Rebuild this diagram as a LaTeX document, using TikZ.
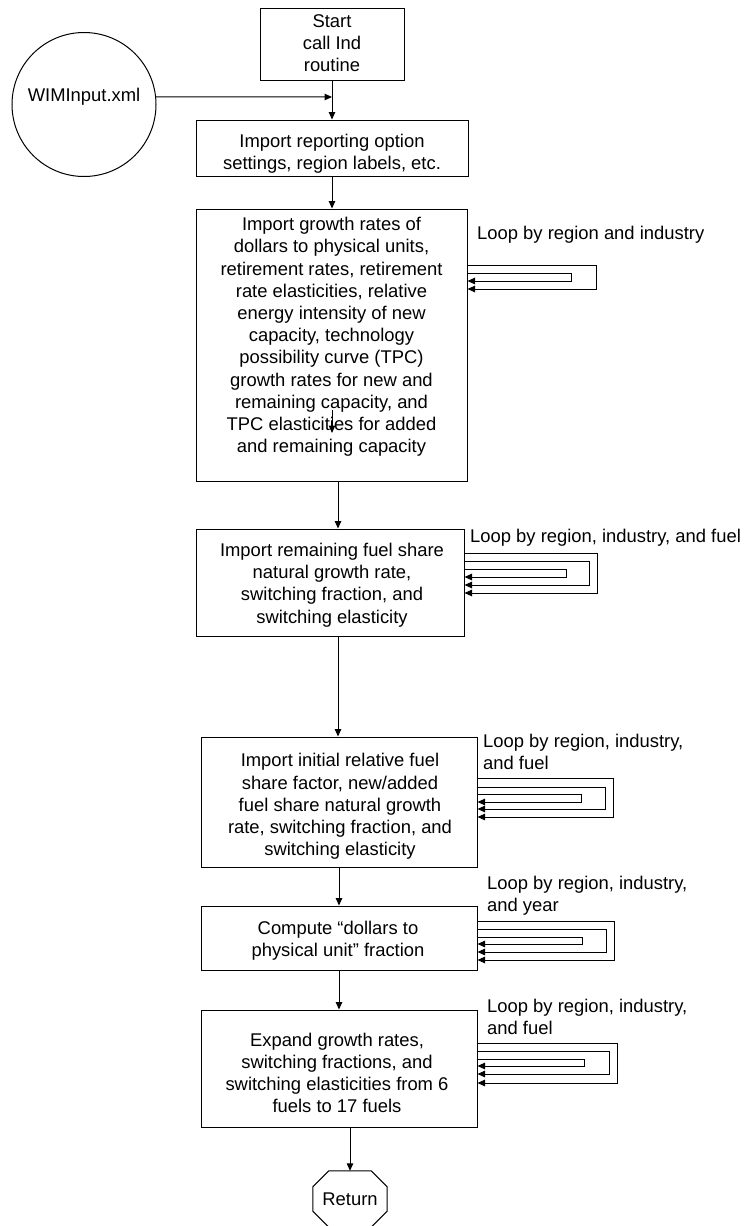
\documentclass[tikz,border=0pt]{standalone}
\usepackage{fontspec}
\setmainfont{Liberation Sans}
\usetikzlibrary{arrows.meta}
\newcommand\fsz{\fontsize{18.4pt}{22.2pt}\selectfont}
\newcommand\looprect[4]{\draw[arr] (#1.east |- 0,#2) -- (#3,#2) -- (#3,#4) -- (#1.east |- 0,#4);}
\begin{document}
\begin{tikzpicture}[x=1pt,y=-1pt,
  every node/.style={font=\fsz, inner sep=0pt},
  box/.style={draw, line width=1pt, rectangle},
  txt/.style={align=center},
  lbl/.style={align=left, anchor=west},
  ln/.style={line width=1pt},
  arr/.style={line width=1pt, -{Triangle[length=7.5pt,width=6.5pt]}}]
\useasboundingbox (0,0) rectangle (750,1226);

% input circle
\node[draw, circle, line width=1pt, minimum size=144pt] (circ) at (84,104.5) {};
\node (ctext) at (84,97) {WIMInput.xml};

% boxes
\node[box, minimum width=144pt, minimum height=72pt] (st) at (332,44) {};
\node[txt] (stt) at (332,43) {Start\\call Ind\\routine};

\node[box, minimum width=272pt, minimum height=56pt] (b2) at (332,148) {};
\node[txt] (t2) at (332,154) {Import reporting option\\settings, region labels, etc.};

\node[box, minimum width=271pt, minimum height=272pt] (b3) at (331.5,345) {};
\node[txt] (t3) at (331.5,337) {Import growth rates of\\dollars to physical units,\\retirement rates, retirement\\rate elasticities, relative\\energy intensity of new\\capacity, technology\\possibility curve (TPC)\\growth rates for new and\\remaining capacity, and\\TPC elasticities for added\\and remaining capacity};

\node[box, minimum width=268pt, minimum height=107pt] (b4) at (330,582.5) {};
\node[txt] (t4) at (332,585) {Import remaining fuel share\\natural growth rate,\\switching fraction, and\\switching elasticity};

\node[box, minimum width=276pt, minimum height=130pt] (b5) at (339,802) {};
\node[txt] (t5) at (340,806.5) {Import initial relative fuel\\share factor, new/added\\fuel share natural growth\\rate, switching fraction, and\\switching elasticity};

\node[box, minimum width=276pt, minimum height=64pt] (b6) at (339,938) {};
\node[txt] (t6) at (338,941) {Compute “dollars to\\physical unit” fraction};

\node[box, minimum width=276pt, minimum height=117pt] (b7) at (339,1068.5) {};
\node[txt] (t7) at (337,1073) {Expand growth rates,\\switching fractions, and\\switching elasticities from 6\\fuels to 17 fuels};

\node[minimum width=74pt, minimum height=56pt] (ret) at (350,1199) {Return};
\draw[ln] ([xshift=16pt]ret.north west) -- ([xshift=-16pt]ret.north east)
  -- ([yshift=-16pt]ret.north east) -- ([yshift=16pt]ret.south east)
  -- ([xshift=-16pt]ret.south east) -- ([xshift=16pt]ret.south west)
  -- ([yshift=16pt]ret.south west) -- ([yshift=-16pt]ret.north west) -- cycle;

% loop labels
\node[lbl] (l1) at (477,235) {Loop by region and industry};
\node[lbl] (l2) at (470,538) {Loop by region, industry, and fuel};
\node[lbl] (l3) at (483,752) {Loop by region, industry,\\and fuel};
\node[lbl] (l4) at (487,895.5) {Loop by region, industry,\\and year};
\node[lbl] (l5) at (487,1017) {Loop by region, industry,\\and fuel};

% connectors
\coordinate (j) at (332,97);
\draw[arr] (circ.6) -- (j);
\draw[arr] (st.south) -- (b2.north);
\draw[arr] (b2.south) -- (b2.south |- b3.north);
\coordinate (s1) at (332,410);
\coordinate (s2) at (332,433);
\draw[arr] (s1) -- (s2);
\draw[arr] (b3.south -| 338,0) -- (b4.north -| 338,0);
\draw[arr] (b4.south -| 338,0) -- (b5.north -| 338,0);
\draw[arr] (b5.south -| 339,0) -- (b6.north -| 339,0);
\draw[arr] (b6.south -| 339,0) -- (b7.north -| 339,0);
\draw[arr] (b7.south -| ret.north) -- (ret.north);

% loops
\looprect{b3}{265}{596}{289}
\looprect{b3}{273}{571}{281}
\looprect{b4}{553}{597}{593}
\looprect{b4}{561}{589}{585}
\looprect{b4}{569}{566}{577}
\looprect{b5}{778}{613}{817}
\looprect{b5}{787}{605}{809}
\looprect{b5}{794}{581}{802}
\looprect{b6}{921}{614}{960}
\looprect{b6}{929}{606}{952}
\looprect{b6}{937}{582}{944}
\looprect{b7}{1043}{617}{1083}
\looprect{b7}{1051}{609}{1074}
\looprect{b7}{1059}{584}{1066}
\end{tikzpicture}
\end{document}
